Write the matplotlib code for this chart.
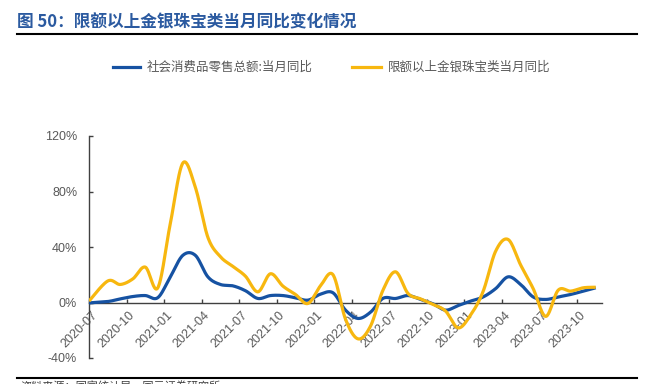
import numpy as np
import pandas as pd
import matplotlib
matplotlib.use('Agg')
import matplotlib.pyplot as plt
from matplotlib.lines import Line2D

plt.rcParams['font.family'] = ['Liberation Sans', 'Noto Sans CJK SC', 'DejaVu Sans']

# ---- data ----
months = pd.period_range('2020-07', '2023-11', freq='M').strftime('%Y-%m').tolist()
retail_yoy = [-0.3, 0.7, 2.6, 4.3, 5.0, 3.5, 18.5, 34.0, 34.0, 18.5, 13.0, 12.0, 8.5, 2.9,
              5.0, 5.0, 3.4, 1.7, 6.0, 7.0, -5.5, -11.5, -7.0, 3.0, 2.9, 5.0, 2.2, -1.0,
              -5.5, -2.2, 1.0, 4.0, 10.0, 18.5, 13.0, 4.0, 2.2, 4.0, 5.8, 8.2, 10.6]
jewelry_yoy = [1.0, 15.5, 13.0, 17.0, 25.5, 10.6, 57.0, 100.5, 83.0, 47.0, 33.0, 26.0, 19.0,
               7.7, 20.7, 11.8, 5.8, -0.7, 12.0, 20.0, -12.0, -26.2, -17.0, 9.0, 22.1, 6.5,
               2.6, -1.4, -6.2, -18.3, -9.0, 8.0, 37.0, 45.4, 27.0, 10.0, -10.0, 8.9, 8.2,
               10.6, 11.0]
tick_labels = ['2020-07', '2020-10', '2021-01', '2021-04', '2021-07', '2021-10', '2022-01',
               '2022-04', '2022-07', '2022-10', '2023-01', '2023-04', '2023-07', '2023-10']
y_ticks = [-40, 0, 40, 80, 120]
series_names = ['社会消费品零售总额:当月同比', '限额以上金银珠宝类当月同比']
title = '图 50：限额以上金银珠宝类当月同比变化情况'
source = '资料来源：国家统计局，国元证券研究所'

BLUE = '#1652A2'
GOLD = '#F7B70F'


def smooth(x, y, n=24):
    pts = np.column_stack([x, y]).astype(float)
    P = np.vstack([pts[0], pts, pts[-1]])
    out = []
    t = np.linspace(0, 1, n)[:, None]
    for i in range(len(pts) - 1):
        p0, p1, p2, p3 = P[i], P[i + 1], P[i + 2], P[i + 3]
        c1 = p1 + (p2 - p0) / 6.0
        c2 = p2 - (p3 - p1) / 6.0
        seg = (1 - t) ** 3 * p1 + 3 * (1 - t) ** 2 * t * c1 + 3 * (1 - t) * t ** 2 * c2 + t ** 3 * p2
        out.append(seg if i == 0 else seg[1:])
    return np.vstack(out)


W, H = 651, 384
fig = plt.figure(figsize=(W / 100, H / 100), dpi=100)
ax = fig.add_axes([89 / W, 26 / H, (602 - 89) / W, (358 - 136) / H])

idx = np.arange(len(months))
pos = idx + 0.5
pos[0] = 0.0

for vals, col in [(retail_yoy, BLUE), (jewelry_yoy, GOLD)]:
    c = smooth(pos, vals)
    ax.plot(c[:, 0], c[:, 1], color=col, lw=2.3, solid_capstyle='butt', zorder=3)

ax.set_xlim(0, len(months))
ax.set_ylim(-40, 120)
for s in ['top', 'right']:
    ax.spines[s].set_visible(False)
ax.spines['bottom'].set_position(('data', 0))
for s in ['left', 'bottom']:
    ax.spines[s].set_color('#404040')
    ax.spines[s].set_linewidth(1.0)

ax.set_yticks(y_ticks)
ax.set_yticklabels([f'{v}%' for v in y_ticks])
ax.tick_params(axis='y', direction='in', length=3, width=1, color='#404040',
               labelcolor='#595959', labelsize=9, pad=8.5)

tick_pos = [months.index(l) for l in tick_labels]
ax.set_xticks(tick_pos)
ax.set_xticklabels([])
ax.set_xticks([p + 0.5 for p in tick_pos], minor=True)
ax.set_xticklabels(tick_labels, minor=True, rotation=45, ha='right', va='center',
                   rotation_mode='anchor')
ax.tick_params(axis='x', which='major', direction='in', length=3, width=1, color='#404040')
ax.tick_params(axis='x', which='minor', length=0, labelcolor='#595959', labelsize=9, pad=8)

cjk = ['Noto Sans CJK SC', 'DejaVu Sans']
# title and rules
fig.text(17 / W, 1 - 22 / H, title, fontsize=12, fontweight='bold', color='#2B5AA0',
         va='center', ha='left', family=cjk)
fig.add_artist(Line2D([17 / W, 637 / W], [1 - 34 / H] * 2, color='black', lw=1.5))
fig.add_artist(Line2D([17 / W, 637 / W], [1 - 378 / H] * 2, color='black', lw=1.5))
fig.text(20 / W, 1 - 381 / H, source, fontsize=8, color='#404040', va='top', ha='left',
         family=cjk)

# legend
ly = 1 - 67 / H
for (x0, x1, tx), name, col in zip([(113, 140, 147), (352, 381, 388)], series_names, [BLUE, GOLD]):
    fig.add_artist(Line2D([x0 / W, x1 / W], [ly, ly], color=col, lw=2.3))
    fig.text(tx / W, ly, name, fontsize=9, color='#595959', va='center', ha='left', family=cjk)

fig.savefig('out.png', dpi=100)
